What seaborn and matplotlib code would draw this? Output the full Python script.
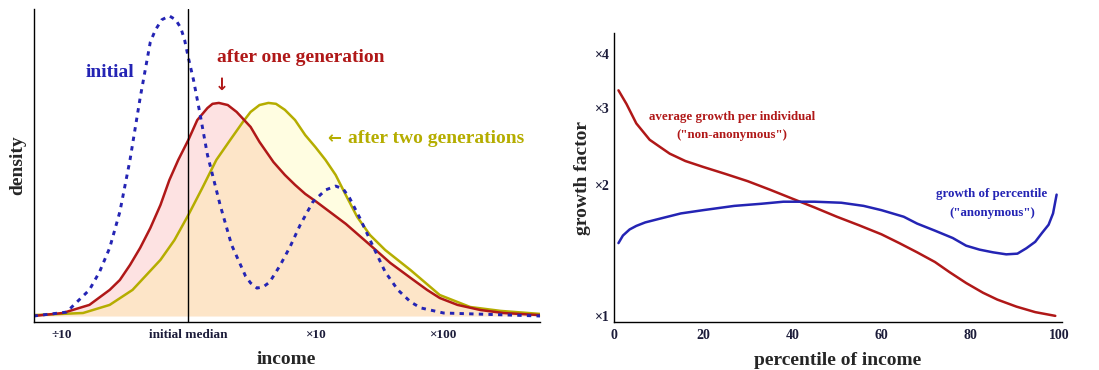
import numpy as np
import pandas as pd
import matplotlib
matplotlib.use("Agg")
import matplotlib.pyplot as plt
import seaborn as sns

# ---------------- data: left panel (x = log10 of income relative to initial median) -------------
blue_x = [-1.22, -0.96, -0.78, -0.70, -0.62, -0.54, -0.46, -0.38, -0.30, -0.26, -0.21, -0.15,
          -0.10, -0.06, -0.03, 0.00, 0.04, 0.09, 0.15, 0.25, 0.34, 0.45, 0.49, 0.54, 0.59,
          0.64, 0.72, 0.80, 0.88, 0.98, 1.08, 1.16, 1.22, 1.27, 1.35, 1.46, 1.55, 1.65,
          1.75, 1.83, 2.01, 2.77]
blue_d = [0.0, 0.013, 0.087, 0.147, 0.227, 0.347, 0.52, 0.727, 0.913, 0.953, 0.987, 1.0,
          0.987, 0.96, 0.92, 0.86, 0.787, 0.677, 0.537, 0.37, 0.237, 0.133, 0.11, 0.093, 0.097,
          0.113, 0.167, 0.23, 0.303, 0.38, 0.42, 0.433, 0.423, 0.393, 0.327, 0.227, 0.147, 0.087,
          0.047, 0.027, 0.01, 0.0]

red_x = [-1.22, -0.99, -0.78, -0.62, -0.54, -0.46, -0.38, -0.30, -0.22, -0.15, -0.08, 0.00,
         0.07, 0.15, 0.19, 0.24, 0.31, 0.38, 0.49, 0.56, 0.67, 0.76, 0.84, 0.92, 1.01, 1.24,
         1.43, 1.59, 1.75, 1.88, 1.98, 2.12, 2.30, 2.48, 2.77]
red_d = [0.0, 0.01, 0.037, 0.087, 0.12, 0.17, 0.227, 0.293, 0.37, 0.453, 0.52, 0.587,
         0.653, 0.693, 0.707, 0.71, 0.703, 0.68, 0.63, 0.58, 0.513, 0.47, 0.437, 0.407, 0.38, 0.307,
         0.237, 0.177, 0.127, 0.087, 0.06, 0.037, 0.02, 0.01, 0.003]

yel_x = [-1.22, -0.83, -0.62, -0.44, -0.22, -0.11, 0.00, 0.11, 0.22, 0.33, 0.43, 0.49,
         0.56, 0.63, 0.69, 0.76, 0.84, 0.92, 1.00, 1.08, 1.16, 1.24, 1.33, 1.43, 1.55,
         1.75, 1.98, 2.22, 2.46, 2.77]
yel_d = [0.003, 0.01, 0.037, 0.087, 0.187, 0.253, 0.337, 0.427, 0.52, 0.587, 0.647, 0.68,
         0.703, 0.71, 0.707, 0.687, 0.653, 0.603, 0.563, 0.52, 0.47, 0.403, 0.33, 0.27, 0.22,
         0.153, 0.07, 0.03, 0.017, 0.007]

inc_ticks = [-1, 0, 1, 2]
inc_labels = ["÷10", "initial median", "×10", "×100"]

# ---------------- data: right panel ----------------
pct_red = [1, 2.8, 5, 8, 10.2, 12.5, 16, 20, 25, 30, 35, 40, 45, 50, 55, 60, 64, 68, 72,
           75.3, 79, 82.8, 86, 90.3, 94.5, 99]
g_red = [3.30, 3.07, 2.77, 2.54, 2.45, 2.36, 2.27, 2.20, 2.12, 2.04, 1.95, 1.86, 1.775, 1.69,
         1.615, 1.54, 1.47, 1.40, 1.33, 1.26, 1.19, 1.13, 1.09, 1.05, 1.02, 1.00]

pct_blue = [1, 2, 3.5, 5, 7, 10, 15, 20, 27, 33, 38, 45, 51, 56, 60, 65, 68, 72, 76, 79,
            82, 85, 88, 90.5, 92.5, 94.5, 96, 97.5, 98.5, 99.3]
g_blue = [1.47, 1.53, 1.58, 1.61, 1.64, 1.67, 1.72, 1.75, 1.79, 1.81, 1.83, 1.83, 1.82, 1.79,
          1.75, 1.69, 1.63, 1.57, 1.51, 1.45, 1.42, 1.40, 1.385, 1.39, 1.43, 1.48, 1.55, 1.62,
          1.72, 1.90]

g_ticks = [1, 2, 3, 4]
g_labels = ["×1", "×2", "×3", "×4"]
pct_ticks = [0, 20, 40, 60, 80, 100]

# ---------------- style ----------------
sns.set_style("white")
plt.rcParams['font.family'] = ['Liberation Serif', 'DejaVu Serif']
plt.rcParams['font.weight'] = 'bold'

BLUE = "#2424b4"
RED = "#b01818"
OLIVE = "#b5ad00"
TICKC = "#1c1c3a"

fig = plt.figure(figsize=(10.99, 3.70), dpi=100)
ax1 = fig.add_axes([0.0305, 0.1297, 0.4609, 0.846])
ax2 = fig.add_axes([0.5587, 0.1297, 0.4076, 0.7811])

# ---- left panel ----
ax1.fill_between(red_x, 0, red_d, color="#fde2e2", lw=0)
ax1.fill_between(yel_x, 0, yel_d, color=(1.0, 0.973, 0.216), alpha=0.15, lw=0)
sns.lineplot(x=yel_x, y=yel_d, ax=ax1, color=OLIVE, lw=1.8, estimator=None)
sns.lineplot(x=red_x, y=red_d, ax=ax1, color=RED, lw=1.8, estimator=None)
sns.lineplot(x=blue_x, y=blue_d, ax=ax1, color=BLUE, lw=2.1, estimator=None,
             linestyle=(0, (1.5, 1.8)))
ax1.axvline(0, color="black", lw=1.0)
ax1.set_xlim(-1.22, 2.77)
ax1.set_ylim(-0.02, 1.023)
ax1.set_xticks(inc_ticks)
ax1.set_xticklabels(inc_labels)
ax1.set_yticks([])
ax1.tick_params(axis='x', direction='in', length=4, width=0.8, colors=TICKC, labelsize=9.5, pad=5)
for s in ['top', 'right']:
    ax1.spines[s].set_visible(False)
for s in ['left', 'bottom']:
    ax1.spines[s].set_color("black")
    ax1.spines[s].set_linewidth(1.0)
ax1.set_xlabel("income", fontsize=14, fontweight='bold', labelpad=7)
ax1.set_ylabel("density", fontsize=14, fontweight='bold', labelpad=5)

ax1.text(-0.62, 0.813, "initial", color=BLUE, fontsize=14, fontweight='bold', ha='center', va='center')
ax1.text(0.225, 0.86, "after one generation", color=RED, fontsize=14, fontweight='bold', ha='left', va='center')
ax1.text(0.26, 0.77, "↓", color=RED, fontsize=12, ha='center', va='center', family=['DejaVu Sans'])
ax1.text(1.09, 0.593, "←", color=OLIVE, fontsize=12, ha='left', va='center', family=['DejaVu Sans'])
ax1.text(1.26, 0.593, "after two generations", color=OLIVE, fontsize=14, fontweight='bold', ha='left', va='center')

# ---- right panel ----
sns.lineplot(x=pct_red, y=g_red, ax=ax2, color=RED, lw=1.8, estimator=None)
sns.lineplot(x=pct_blue, y=g_blue, ax=ax2, color=BLUE, lw=1.8, estimator=None)
ax2.set_yscale('log')
ax2.set_ylim(0.968, 4.47)
ax2.set_xlim(0, 100.5)
ax2.set_yticks(g_ticks)
ax2.set_yticklabels(g_labels)
ax2.yaxis.set_minor_locator(matplotlib.ticker.NullLocator())
ax2.set_xticks(pct_ticks)
ax2.set_xticks(np.arange(0, 101, 5), minor=True)
ax2.tick_params(axis='x', which='major', direction='in', length=4, width=0.8, colors=TICKC,
                labelsize=10, pad=5)
ax2.tick_params(axis='y', which='major', direction='in', length=4, width=0.8, colors=TICKC,
                labelsize=10, pad=3)
ax2.tick_params(axis='x', which='minor', direction='in', length=2.5, width=0.7, colors=TICKC)
for s in ['top', 'right']:
    ax2.spines[s].set_visible(False)
for s in ['left', 'bottom']:
    ax2.spines[s].set_color("black")
    ax2.spines[s].set_linewidth(1.0)
ax2.set_xlabel("percentile of income", fontsize=14, fontweight='bold', labelpad=7)
ax2.set_ylabel("growth factor", fontsize=14, fontweight='bold', labelpad=3)

ax2.text(26.5, 2.87, "average growth per individual", color=RED, fontsize=9.3, fontweight='bold', ha='center', va='center')
ax2.text(26.5, 2.61, '("non-anonymous")', color=RED, fontsize=9.3, fontweight='bold', ha='center', va='center')
ax2.text(84.8, 1.91, "growth of percentile", color=BLUE, fontsize=9.3, fontweight='bold', ha='center', va='center')
ax2.text(84.8, 1.725, '("anonymous")', color=BLUE, fontsize=9.3, fontweight='bold', ha='center', va='center')

fig.savefig("out.png", dpi=100)
